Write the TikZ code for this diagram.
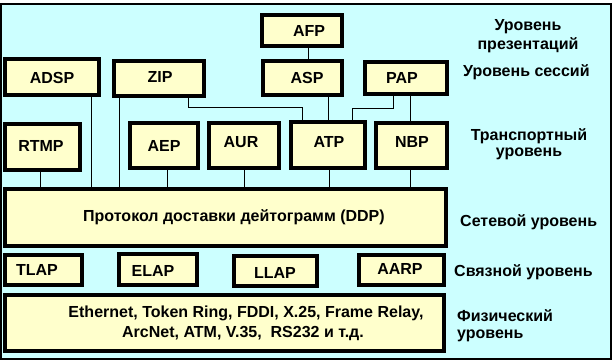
\documentclass[tikz,border=0pt]{standalone}
\usepackage{fontspec}
\setmainfont{Liberation Sans}
\definecolor{bgcyan}{HTML}{CCFFFF}
\definecolor{bxyellow}{HTML}{FFFFCC}
\newcommand\abox[5]{\node[pbx,minimum width={#4-#2-3.6},minimum height={#5-#3-3.6}] (#1) at ({(#2+#4)/2},{(#3+#5)/2}) {};}
\begin{document}
\begin{tikzpicture}[x=1pt,y=-1pt,
  pbx/.style={draw=black,line width=3.6pt,fill=bxyellow,inner sep=0pt,outer sep=0pt},
  lbl/.style={font=\fontsize{16}{20}\selectfont\bfseries,inner sep=0pt,anchor=base},
  lblw/.style={lbl,anchor=base west},
  con/.style={draw=black,line width=1pt}]
\useasboundingbox (0,0) rectangle (614,361);
\draw[fill=bgcyan,line width=1.5pt] (1,4) rectangle (611,359);
% boxes
\abox{afp}{260}{13}{344}{48}
\abox{adsp}{3}{57}{101}{97}
\abox{zip}{112}{59}{206}{98}
\abox{asp}{261}{59}{344}{97}
\abox{pap}{363}{60}{449}{96}
\abox{rtmp}{3}{122}{82}{172}
\abox{aep}{128}{121}{200}{170}
\abox{aur}{207}{121}{281}{170}
\abox{atp}{289}{120}{367}{170}
\abox{nbp}{374}{121}{449}{170}
\abox{ddp}{3}{187}{448}{248}
\abox{tlap}{3}{253}{84}{287}
\abox{elap}{117}{252}{199}{287}
\abox{llap}{232}{254}{319}{288}
\abox{aarp}{357}{253}{446}{287}
\abox{phy}{3}{293}{446}{353}
% box texts
\node[lbl] (afpt) at (309,37) {AFP};
\node[lbl] (adspt) at (52,83.5) {ADSP};
\node[lbl] (zipt) at (160,83) {ZIP};
\node[lbl] (aspt) at (307,84) {ASP};
\node[lbl] (papt) at (402,84) {PAP};
\node[lbl] (rtmpt) at (41,152) {RTMP};
\node[lbl] (aept) at (164,152) {AEP};
\node[lbl] (aurt) at (241,148) {AUR};
\node[lbl] (atpt) at (329,148) {ATP};
\node[lbl] (nbpt) at (412,148) {NBP};
\node[lblw] (ddpt) at (83,221) {Протокол доставки дейтограмм (DDP)};
\node[lbl] (tlapt) at (37,275) {TLAP};
\node[lbl] (elapt) at (153,276) {ELAP};
\node[lbl] (llapt) at (275,278) {LLAP};
\node[lbl] (aarpt) at (400,274) {AARP};
\node[lbl] (phya) at (246,317) {Ethernet, Token Ring, FDDI, X.25, Frame Relay,};
\node[lbl] (phyb) at (243,337) {ArcNet, ATM, V.35,\ \ RS232 и т.д.};
% level labels
\node[lbl] (l1a) at (528,31) {Уровень};
\node[lbl] (l1b) at (528,50) {презентаций};
\node[lblw] (l2) at (463,77) {Уровень сессий};
\node[lbl] (l3a) at (529,140) {Транспортный};
\node[lbl] (l3b) at (529,157) {уровень};
\node[lblw] (l4) at (460,226) {Сетевой уровень};
\node[lblw] (l5) at (454,276) {Связной уровень};
\node[lblw] (l6a) at (457,321) {Физический};
\node[lblw] (l6b) at (457,338) {уровень};
% connectors
\draw[con] (afp.south -| 308,0) -- (asp.north -| 308,0);
\draw[con] (asp.south -| 328,0) -- (atp.north -| 328,0);
\draw[con] (zip.south -| 188,0) |- (302,108) -- (atp.north -| 302,0);
\draw[con] (pap.south -| 393,0) |- (352,109) -- (atp.north -| 352,0);
\draw[con] (pap.south -| 410,0) -- (nbp.north -| 410,0);
\draw[con] (rtmp.south -| 40,0) -- (ddp.north -| 40,0);
\draw[con] (adsp.south -| 91,0) -- (ddp.north -| 91,0);
\draw[con] (zip.south -| 119,0) -- (ddp.north -| 119,0);
\draw[con] (aep.south -| 167,0) -- (ddp.north -| 167,0);
\draw[con] (aur.south -| 244,0) -- (ddp.north -| 244,0);
\draw[con] (atp.south -| 329,0) -- (ddp.north -| 329,0);
\draw[con] (nbp.south -| 410,0) -- (ddp.north -| 410,0);
\end{tikzpicture}
\end{document}
